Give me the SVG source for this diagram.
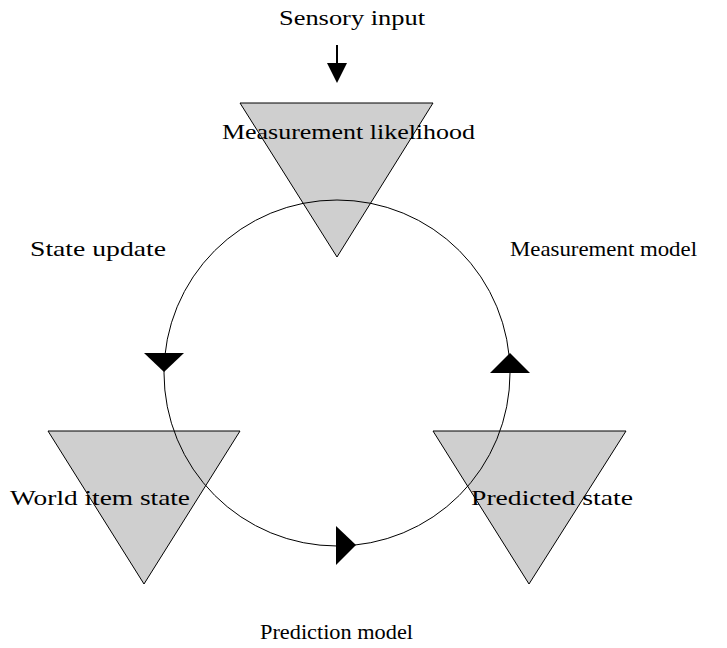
<svg xmlns="http://www.w3.org/2000/svg" width="727" height="648" viewBox="0 0 727 648">
  <style>
    .tri { fill: #cfcfcf; stroke: #000; stroke-width: 1; }
    .lbl { font-family: "Liberation Serif", "DejaVu Serif", serif; font-size: 21px; fill: #000; }
    .cyc { fill: none; stroke: #000; stroke-width: 1; }
    .head { fill: #000; }
  </style>
  <rect width="727" height="648" fill="#fff"/>

  <!-- nodes: inverted triangles -->
  <g id="measurement-likelihood">
    <polygon class="tri" points="240,103 433,103 337,257"/>
  </g>
  <g id="world-item-state">
    <polygon class="tri" points="48,431 240,431 144,584"/>
  </g>
  <g id="predicted-state">
    <polygon class="tri" points="433,431 626,431 529,584"/>
  </g>

  <!-- connectors: the update cycle and the sensory input arrow -->
  <g id="connectors">
    <circle class="cyc" cx="337" cy="373" r="173"/>
    <polygon class="head" points="144,353 184,353 164,372"/>
    <polygon class="head" points="490,373 530,373 510,353"/>
    <polygon class="head" points="336,526 336,565 356,545"/>
    <line x1="337" y1="45" x2="337" y2="66" stroke="#000" stroke-width="2"/>
    <polygon class="head" points="327,63 347,63 337,83"/>
  </g>

  <!-- labels -->
  <g id="labels">
    <text class="lbl" x="279" y="25" textLength="146" lengthAdjust="spacingAndGlyphs">Sensory input</text>
    <text class="lbl" x="222" y="139" textLength="253" lengthAdjust="spacingAndGlyphs">Measurement likelihood</text>
    <text class="lbl" x="30" y="256" textLength="136" lengthAdjust="spacingAndGlyphs">State update</text>
    <text class="lbl" x="510" y="256" textLength="187" lengthAdjust="spacingAndGlyphs">Measurement model</text>
    <text class="lbl" x="10" y="505" textLength="180" lengthAdjust="spacingAndGlyphs">World item state</text>
    <text class="lbl" x="471" y="505" textLength="162" lengthAdjust="spacingAndGlyphs">Predicted state</text>
    <text class="lbl" x="260" y="639" textLength="153" lengthAdjust="spacingAndGlyphs">Prediction model</text>
  </g>
</svg>
